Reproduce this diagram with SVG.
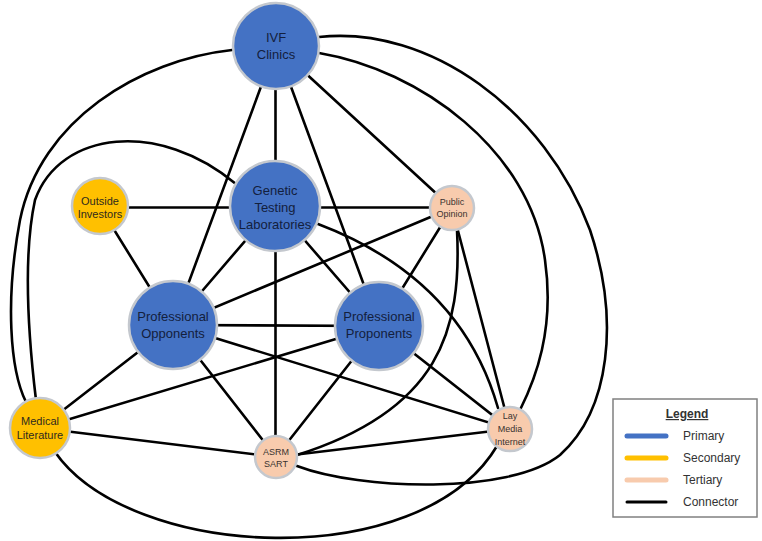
<svg xmlns="http://www.w3.org/2000/svg" width="762" height="541" viewBox="0 0 762 541">
<style>
.bg{fill:#ffffff}
.c{fill:none;stroke:#000;stroke-width:2.6;stroke-linecap:round}
.p{fill:#4472C4;stroke:#C4C8CE;stroke-width:2.5}
.s{fill:#FFC000;stroke:#C4C8CE;stroke-width:2.5}
.t{fill:#F8CBAD;stroke:#C4C8CE;stroke-width:2.5}
text{font-family:"Liberation Sans",Arial,sans-serif;text-anchor:middle}
.lp{font-size:13px;fill:#13203D}
.ls{font-size:11px;fill:#2E2A1E}
.lt{font-size:9px;fill:#3A3330}
.lg{font-size:12px;fill:#333;text-anchor:start}
.lgl{stroke-width:5;stroke-linecap:round}
</style>
<rect class="bg" width="762" height="541"/>
<g id="connectors">
<line class="c" x1="275.5" y1="46" x2="275.5" y2="206"/>
<line class="c" x1="276" y1="46" x2="173" y2="325"/>
<line class="c" x1="276" y1="46" x2="379" y2="326"/>
<line class="c" x1="276" y1="46" x2="452" y2="208"/>
<line class="c" x1="100" y1="207.5" x2="452" y2="207.5"/>
<line class="c" x1="275" y1="206" x2="173" y2="325"/>
<line class="c" x1="275" y1="206" x2="379" y2="326"/>
<line class="c" x1="275.5" y1="206" x2="275.5" y2="457"/>
<line class="c" x1="100" y1="207" x2="173" y2="325"/>
<line class="c" x1="452" y1="208" x2="173" y2="325"/>
<line class="c" x1="452" y1="208" x2="379" y2="326"/>
<line class="c" x1="452" y1="208" x2="510" y2="429"/>
<line class="c" x1="173" y1="325" x2="379" y2="326"/>
<line class="c" x1="173" y1="325" x2="510" y2="429"/>
<line class="c" x1="173" y1="325" x2="276" y2="457"/>
<line class="c" x1="173" y1="325" x2="40" y2="428"/>
<line class="c" x1="379" y1="326" x2="40" y2="428"/>
<line class="c" x1="379" y1="326" x2="276" y2="457"/>
<line class="c" x1="379" y1="326" x2="510" y2="429"/>
<line class="c" x1="40" y1="428" x2="276" y2="457"/>
<line class="c" x1="276" y1="457" x2="510" y2="429"/>
<path class="c" d="M 236 184 C 160 120 60 130 35 200 C 22 260 30 350 36 400"/>
<path class="c" d="M 232 50 C 140 60 40 120 20 220 C 5 300 10 370 26 402"/>
<path class="c" d="M 319 53 C 420 70 530 150 545 260 C 555 330 535 380 520 410"/>
<path class="c" d="M 319 37 C 430 25 545 110 590 230 C 620 320 610 410 560 455 C 510 495 360 490 297 466"/>
<path class="c" d="M 318 224 C 400 255 470 310 498 408"/>
<path class="c" d="M 457 230 C 462 330 440 410 297 455"/>
<path class="c" d="M 55 452 C 130 560 420 575 497 446"/>
</g>
<g id="ivf-clinics">
<circle class="p" cx="276" cy="46" r="43"/>
<text class="lp" x="276" y="42">IVF</text>
<text class="lp" x="276" y="59">Clinics</text>
</g>
<g id="genetic-testing-laboratories">
<circle class="p" cx="275" cy="206" r="45"/>
<text class="lp" x="275" y="195">Genetic</text>
<text class="lp" x="275" y="212">Testing</text>
<text class="lp" x="275" y="229">Laboratories</text>
</g>
<g id="outside-investors">
<circle class="s" cx="100" cy="206" r="28"/>
<text class="ls" x="100" y="204.5">Outside</text>
<text class="ls" x="100" y="218">Investors</text>
</g>
<g id="public-opinion">
<circle class="t" cx="452" cy="208" r="22"/>
<text class="lt" x="452" y="205">Public</text>
<text class="lt" x="452" y="216.5">Opinion</text>
</g>
<g id="professional-opponents">
<circle class="p" cx="173" cy="325" r="44"/>
<text class="lp" x="173" y="321">Professional</text>
<text class="lp" x="173" y="338">Opponents</text>
</g>
<g id="professional-proponents">
<circle class="p" cx="379" cy="326" r="44"/>
<text class="lp" x="379" y="321">Professional</text>
<text class="lp" x="379" y="338">Proponents</text>
</g>
<g id="medical-literature">
<circle class="s" cx="40" cy="428" r="30"/>
<text class="ls" x="40" y="425">Medical</text>
<text class="ls" x="40" y="439">Literature</text>
</g>
<g id="asrm-sart">
<circle class="t" cx="276" cy="457" r="21"/>
<text class="lt" x="276" y="455">ASRM</text>
<text class="lt" x="276" y="466.5">SART</text>
</g>
<g id="lay-media-internet">
<circle class="t" cx="510" cy="429" r="22"/>
<text class="lt" x="510" y="419">Lay</text>
<text class="lt" x="510" y="431.5">Media</text>
<text class="lt" x="510" y="444.5">Internet</text>
</g>
<g id="legend">
<rect x="613" y="399" width="144" height="118" fill="#fff" stroke="#808080" stroke-width="1.5"/>
<text x="687" y="418" font-size="12" font-weight="bold" fill="#333" text-decoration="underline">Legend</text>
<line class="lgl" x1="627" y1="436" x2="666" y2="436" stroke="#4472C4"/>
<line class="lgl" x1="627" y1="458" x2="666" y2="458" stroke="#FFC000"/>
<line class="lgl" x1="627" y1="480" x2="666" y2="480" stroke="#F8CBAD"/>
<line x1="627" y1="502" x2="666" y2="502" stroke="#000" stroke-width="3" stroke-linecap="round"/>
<text class="lg" x="683" y="440">Primary</text>
<text class="lg" x="683" y="462">Secondary</text>
<text class="lg" x="683" y="484">Tertiary</text>
<text class="lg" x="683" y="506">Connector</text>
</g>
</svg>
